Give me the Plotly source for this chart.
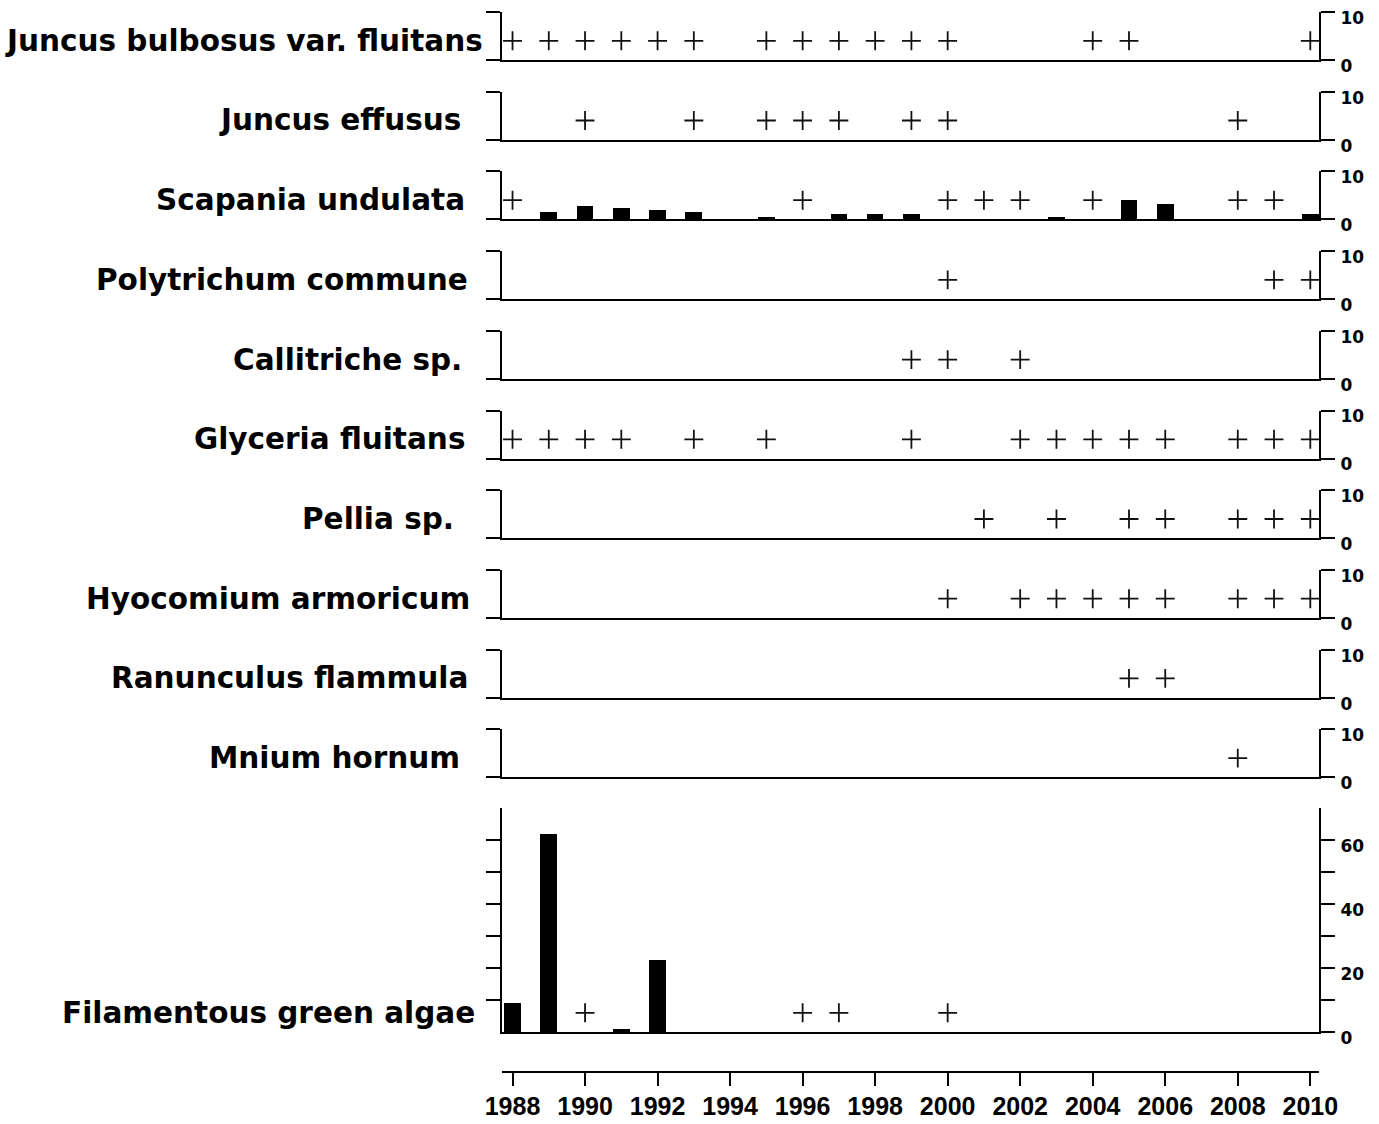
import plotly.graph_objects as go

# ---------------- data ----------------
species = [
    "Juncus bulbosus var. fluitans",
    "Juncus effusus",
    "Scapania undulata",
    "Polytrichum commune",
    "Callitriche sp.",
    "Glyceria fluitans",
    "Pellia sp.",
    "Hyocomium armoricum",
    "Ranunculus flammula",
    "Mnium hornum",
    "Filamentous green algae",
]

# years in which the taxon was recorded as present (+)
present_juncus_bulbosus = [1988, 1989, 1990, 1991, 1992, 1993, 1995, 1996, 1997, 1998, 1999, 2000, 2004, 2005, 2010]
present_juncus_effusus = [1990, 1993, 1995, 1996, 1997, 1999, 2000, 2008]
present_scapania = [1988, 1996, 2000, 2001, 2002, 2004, 2008, 2009]
present_polytrichum = [2000, 2009, 2010]
present_callitriche = [1999, 2000, 2002]
present_glyceria = [1988, 1989, 1990, 1991, 1993, 1995, 1999, 2002, 2003, 2004, 2005, 2006, 2008, 2009, 2010]
present_pellia = [2001, 2003, 2005, 2006, 2008, 2009, 2010]
present_hyocomium = [2000, 2002, 2003, 2004, 2005, 2006, 2008, 2009, 2010]
present_ranunculus = [2005, 2006]
present_mnium = [2008]
present_algae = [1990, 1996, 1997, 2000]

# percentage cover (bars)
scapania_years = [1989, 1990, 1991, 1992, 1993, 1995, 1997, 1998, 1999, 2003, 2005, 2006, 2010]
scapania_cover = [1.4, 2.7, 2.3, 1.9, 1.4, 0.5, 1.0, 1.0, 1.0, 0.5, 4.0, 3.2, 1.0]
algae_years = [1988, 1989, 1991, 1992]
algae_cover = [9, 62, 1, 22.5]

present_lists = [
    present_juncus_bulbosus, present_juncus_effusus, present_scapania,
    present_polytrichum, present_callitriche, present_glyceria, present_pellia,
    present_hyocomium, present_ranunculus, present_mnium, present_algae,
]
bar_years = [[], [], scapania_years, [], [], [], [], [], [], [], algae_years]
bar_values = [[], [], scapania_cover, [], [], [], [], [], [], [], algae_cover]

# nominal height at which "+" (present, not quantified) is drawn
plus_level_small = 4
plus_level_algae = 6

year_ticks = list(range(1988, 2011, 2))
small_ticks = [0, 10]
small_ticktext = ["0", "10"]
algae_ticks = [0, 10, 20, 30, 40, 50, 60]
algae_ticktext = ["0", "", "20", "", "40", "", "60"]

# ---------------- layout geometry ----------------
W, H = 1379, 1124

def px_x(p):   # page pixel -> paper x
    return p / W

def py(p):     # page pixel -> paper y
    return 1 - p / H

X_LEFT, X_RIGHT = 502, 1319
x_dom = [px_x(X_LEFT), px_x(X_RIGHT)]
x_range = [1987.71, 2010.24]

label_right_px = [485, 463, 467, 470, 464, 467, 456, 472, 470, 462, 477]

LABEL_FONT = dict(family="DejaVu Sans", size=29.5, color="black", weight="bold")
TICK_FONT = dict(family="DejaVu Sans", size=17, color="black", weight="bold")
YEAR_FONT = dict(family="Liberation Sans", size=25, color="black", weight="bold")

fig = go.Figure()
layout = dict(
    width=W, height=H,
    margin=dict(l=0, r=0, t=0, b=0, autoexpand=False),
    paper_bgcolor="white", plot_bgcolor="white",
    showlegend=False, bargap=0,
    annotations=[],
)

n = len(species)
for i in range(n):
    k = i + 1
    kr = n + k
    last = (i == n - 1)
    if not last:
        top = 12 + 79.7 * i
        bot = top + 48
        yr = [0, 10]
        lt, rt, rtt = small_ticks, small_ticks, small_ticktext
        plus_y = plus_level_small
    else:
        top, bot = 808, 1032
        yr = [0, 70]
        lt = algae_ticks[1:]
        rt, rtt = algae_ticks, algae_ticktext
        plus_y = plus_level_algae
    y_dom = [py(bot), py(top)]

    layout[f"xaxis{k}"] = dict(
        domain=x_dom, range=x_range, anchor=f"y{k}", automargin=False,
        showline=True, linecolor="black", linewidth=2,
        ticks="", showticklabels=False, showgrid=False, zeroline=False,
    )
    layout[f"yaxis{k}"] = dict(
        domain=y_dom, range=yr, anchor=f"x{k}", side="left", automargin=False,
        showline=True, linecolor="black", linewidth=2,
        ticks="outside", ticklen=14, tickwidth=2, tickcolor="black",
        tickvals=lt, showticklabels=False, showgrid=False, zeroline=False,
    )
    layout[f"yaxis{kr}"] = dict(
        range=yr, anchor=f"x{k}", overlaying=f"y{k}", side="right", automargin=False,
        showline=True, linecolor="black", linewidth=2,
        ticks="outside", ticklen=14, tickwidth=2, tickcolor="black",
        tickvals=rt, ticktext=rtt, tickfont=TICK_FONT,
        ticklabelshift=6, ticklabelstandoff=2, ticklabeloverflow="allow",
        showgrid=False, zeroline=False,
    )

    fig.add_trace(go.Bar(
        x=bar_years[i], y=bar_values[i], width=0.46,
        marker=dict(color="black", line=dict(width=0)),
        xaxis=f"x{k}", yaxis=f"y{k}", hoverinfo="x+y",
    ))
    fig.add_trace(go.Scatter(
        x=present_lists[i], y=[plus_y] * len(present_lists[i]),
        mode="markers",
        marker=dict(symbol="cross-thin", size=13.5, color="#111",
                    line=dict(width=1.8, color="#111")),
        xaxis=f"x{k}", yaxis=f"y{kr}", hoverinfo="x",
    ))

    layout["annotations"].append(dict(
        text=species[i], xref="paper", yref=f"y{k}",
        x=px_x(label_right_px[i]), y=plus_y, xanchor="right", yanchor="middle",
        showarrow=False, font=LABEL_FONT,
    ))

# bottom year axis
layout["xaxis12"] = dict(
    range=x_range, overlaying="x11", anchor="free", position=py(1072), side="bottom",
    automargin=False,
    showline=True, linecolor="black", linewidth=2,
    ticks="outside", ticklen=13, tickwidth=2, tickcolor="black",
    tickvals=year_ticks, ticktext=[str(y) for y in year_ticks], tickfont=YEAR_FONT,
    ticklabelstandoff=-1, ticklabeloverflow="allow",
    showgrid=False, zeroline=False,
)
fig.add_trace(go.Scatter(
    x=year_ticks, y=[0] * len(year_ticks), mode="markers",
    marker=dict(opacity=0), xaxis="x12", yaxis="y11", hoverinfo="skip",
))

fig.update_layout(**layout)
fig.write_html(
    "out.html",
    config={"displayModeBar": False},
    post_script="document.body.style.margin='0px';document.body.style.overflow='hidden';",
)
